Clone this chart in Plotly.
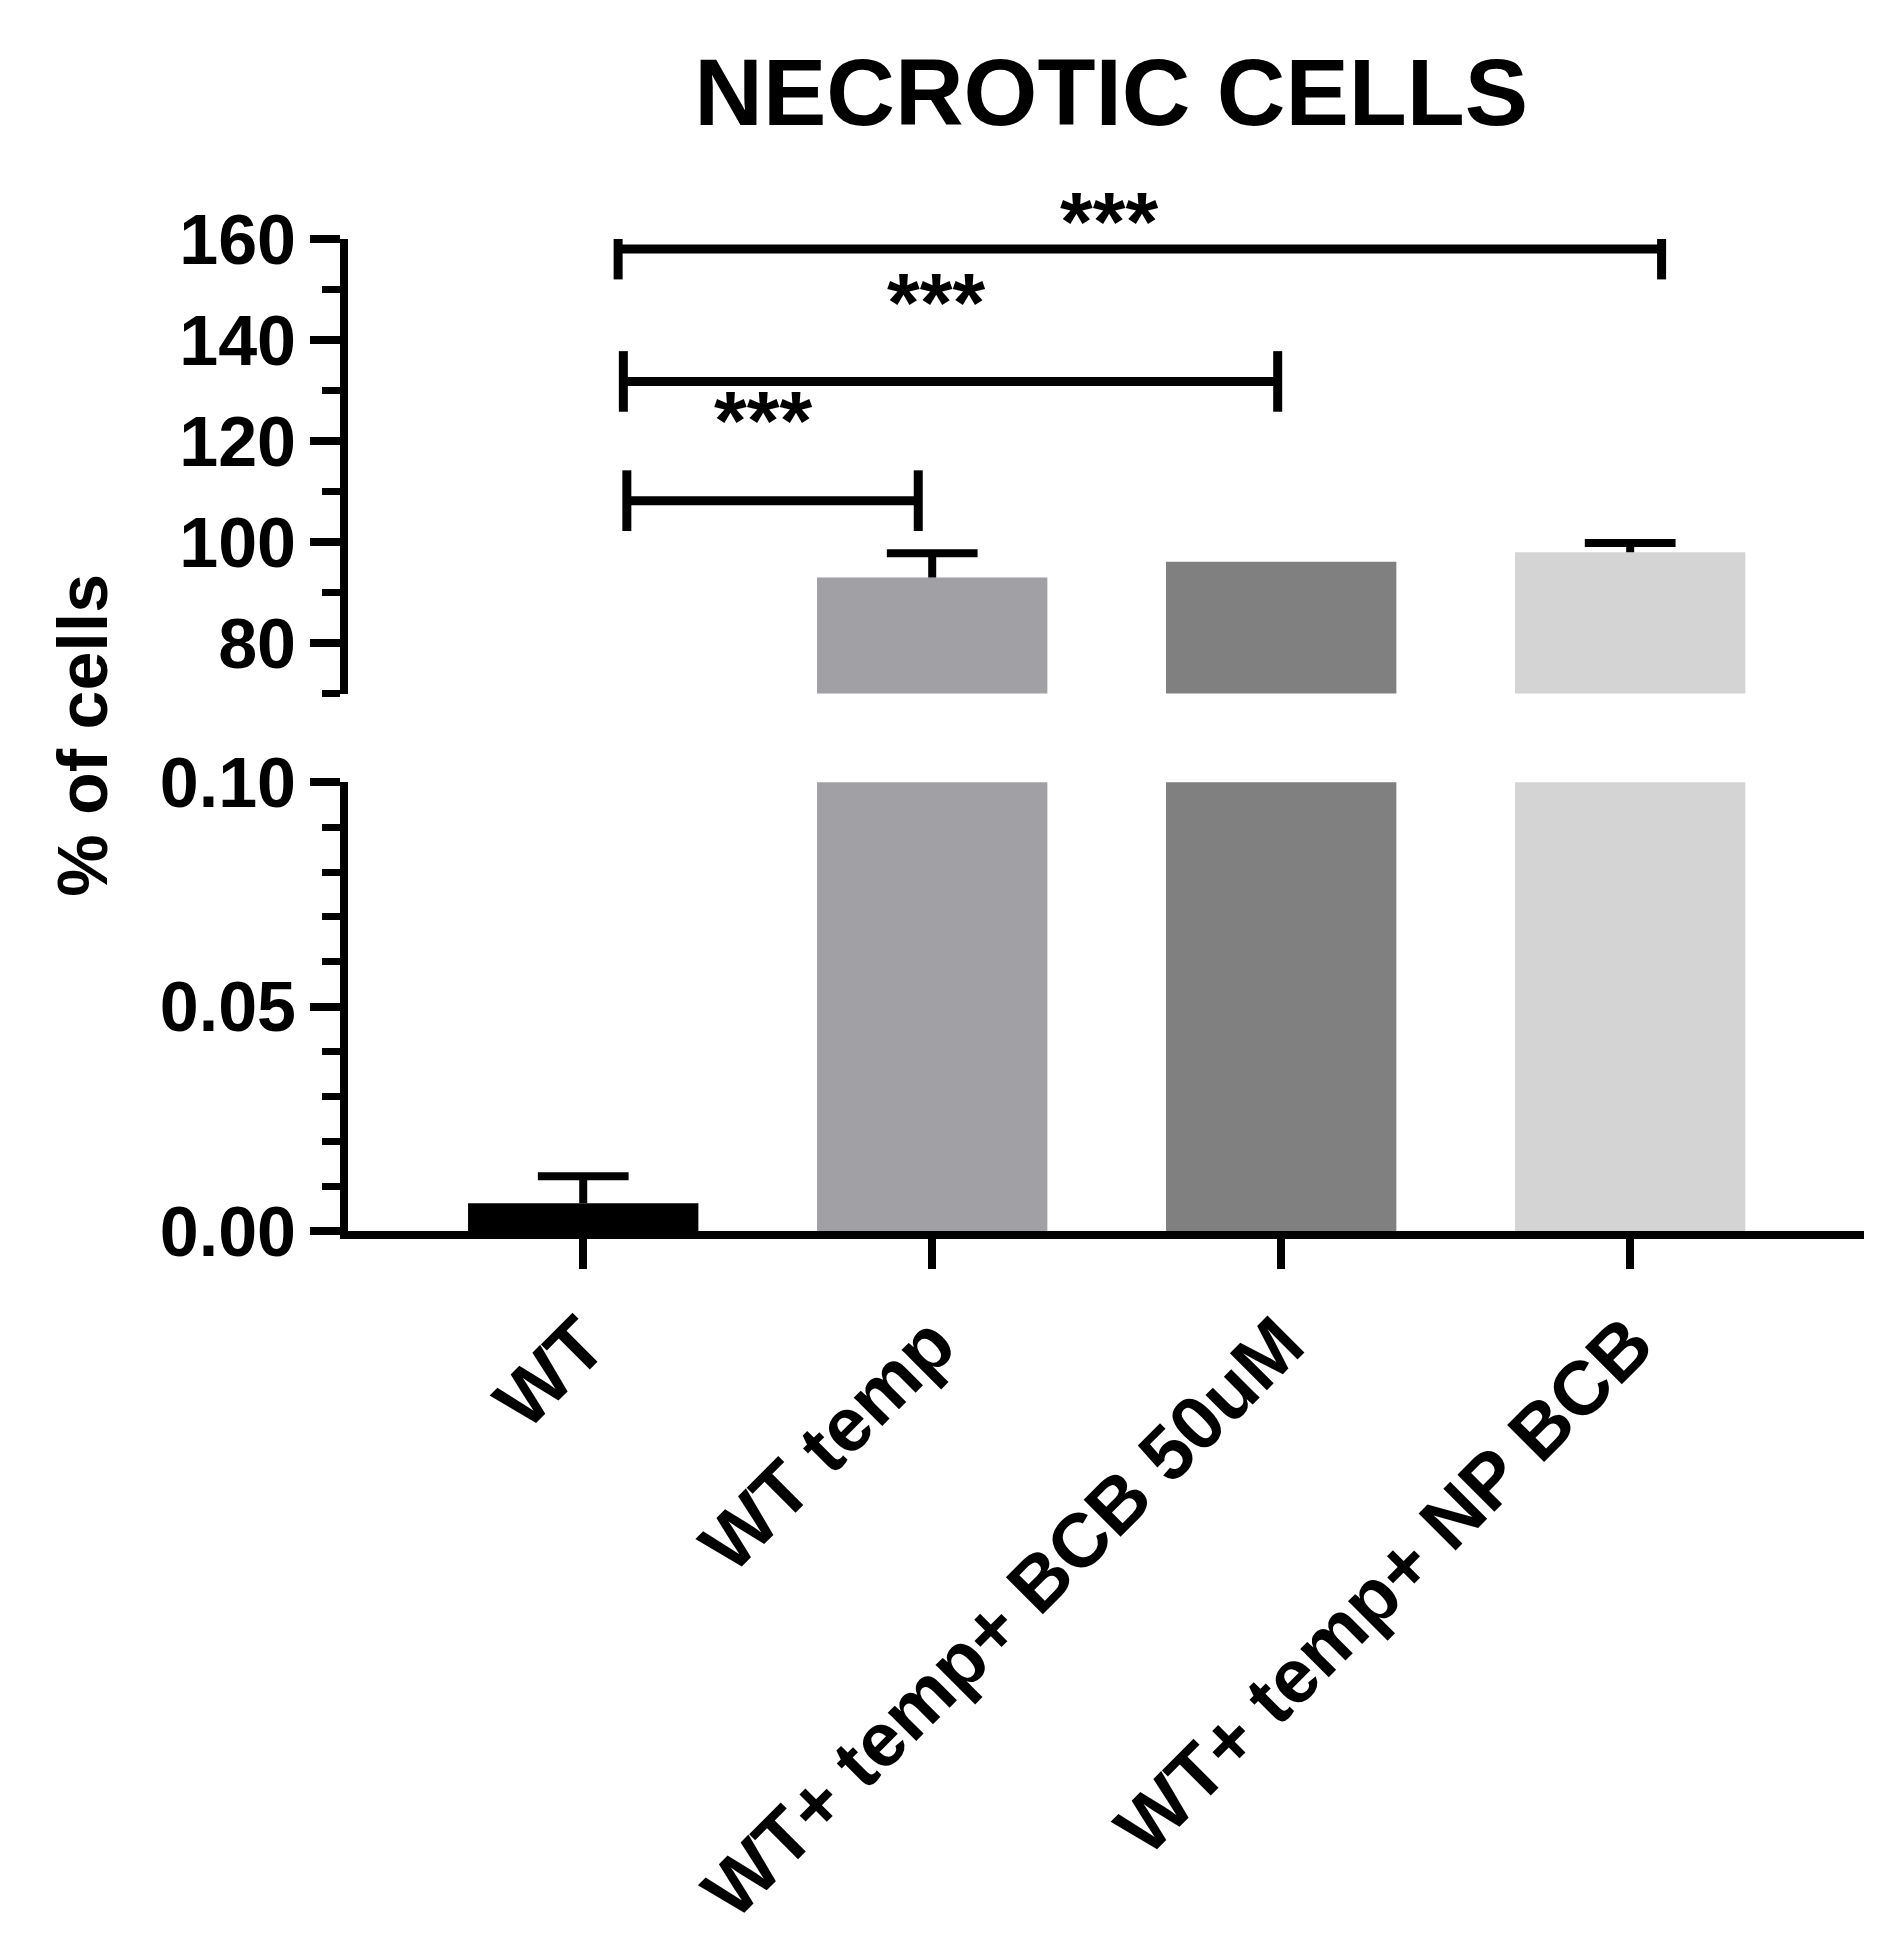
import plotly.graph_objects as go

categories = ["WT", "WT temp", "WT+ temp+ BCB 50uM", "WT+ temp+ NP BCB"]
values = [0.0062, 93.0, 96.1, 98.0]
errors = [0.006, 4.8, 0.0, 1.8]
colors = ["#000000", "#a0a0a5", "#808080", "#d4d4d4"]

# significance brackets: (x start, x end, y level), star labels
brackets_x0 = [0.125, 0.115, 0.10]
brackets_x1 = [0.96, 1.99, 3.09]
brackets_y = [108.2, 131.8, 158.0]
star_x = [0.515, 1.01, 1.507]
star_y = [124.0, 147.4, 173.0]
star_text = ["***", "***", "***"]

xs = list(range(len(categories)))
fig = go.Figure()
for ya in ["y", "y2"]:
    fig.add_trace(go.Bar(
        x=xs, y=values, yaxis=ya, marker=dict(color=colors, line=dict(width=0)),
        width=0.66, showlegend=False))

shapes = []
# error whiskers (upper only)
cap = 0.13
for x, v, e in zip(xs, values, errors):
    if e <= 0:
        continue
    yr = "y" if v < 0.1 else "y2"
    shapes.append(dict(type="line", xref="x", yref=yr, x0=x, x1=x, y0=v, y1=v + e,
                       line=dict(color="black", width=8)))
    shapes.append(dict(type="line", xref="x", yref=yr, x0=x - cap, x1=x + cap, y0=v + e, y1=v + e,
                       line=dict(color="black", width=8)))

for x0, x1, y in zip(brackets_x0, brackets_x1, brackets_y):
    shapes.append(dict(type="line", xref="x", yref="y2", x0=x0, x1=x1, y0=y, y1=y,
                       line=dict(color="black", width=9)))
    for xx in (x0, x1):
        shapes.append(dict(type="line", xref="x", yref="y2", x0=xx, x1=xx, y0=y-6, y1=y+6,
                           line=dict(color="black", width=9)))

plot_h = 1247 - 241
sfont = dict(size=84, color="black", family="Liberation Sans")
ann = []
for sx, sy, st in zip(star_x, star_y, star_text):
    if sy <= 160:
        ann.append(dict(x=sx, y=sy, xref="x", yref="y2", text=f"<b>{st}</b>", showarrow=False, font=sfont))
    else:
        ann.append(dict(x=sx, y=1 + (sy - 160) * (461 / 90) / plot_h, xref="x", yref="paper",
                        text=f"<b>{st}</b>", showarrow=False, font=sfont))

tf = dict(family="Liberation Sans", size=70, color="black")
fig.update_layout(
    width=1886, height=1938,
    margin=dict(l=340, r=30, t=231, b=701),
    paper_bgcolor="white", plot_bgcolor="white",
    title=dict(text="<b>NECROTIC CELLS</b>", x=0.585, xanchor="center", y=0.9567, yanchor="middle",
               font=dict(family="Liberation Sans", size=95, color="black")),
    font=tf,
    shapes=shapes, annotations=ann + [dict(
        text="<b>% of cells</b>", textangle=-90, x=-0.175, y=0.5, xref="paper", yref="paper",
        xanchor="center", showarrow=False, font=dict(family="Liberation Sans", size=70, color="black"))],
    xaxis=dict(tickmode="array", tickvals=xs, ticktext=[f"<b>{c}</b>" for c in categories],
               range=[-0.674, 3.67], showline=True, linecolor="black", linewidth=8,
               ticks="outside", ticklen=30, tickwidth=8, tickcolor="black",
               tickangle=-45, showgrid=False, zeroline=False,
               tickfont=dict(family="Liberation Sans", size=76, color="black")),
    yaxis=dict(domain=[0, 455/1006], range=[0, 0.1], showline=True, linecolor="black",
               linewidth=8, ticks="outside", ticklen=30, tickwidth=8, tickcolor="black",
               tickvals=[0, 0.05, 0.1], ticktext=["<b>0.00</b>", "<b>0.05</b>", "<b>0.10</b>"],
               minor=dict(tickvals=[0.01, 0.02, 0.03, 0.04, 0.06, 0.07, 0.08, 0.09],
                          ticks="outside", ticklen=18, tickwidth=7, tickcolor="black"),
               showgrid=False, zeroline=False, tickfont=tf),
    yaxis2=dict(domain=[545/1006, 1], range=[70, 160], showline=True, linecolor="black",
                linewidth=8, ticks="outside", ticklen=30, tickwidth=8, tickcolor="black",
                tickvals=[80, 100, 120, 140, 160],
                ticktext=["<b>80</b>", "<b>100</b>", "<b>120</b>", "<b>140</b>", "<b>160</b>"],
                minor=dict(tickvals=[70, 90, 110, 130, 150], ticks="outside", ticklen=18,
                           tickwidth=7, tickcolor="black"),
                showgrid=False, zeroline=False, anchor="x", tickfont=tf),
)
fig.write_html("out.html")
